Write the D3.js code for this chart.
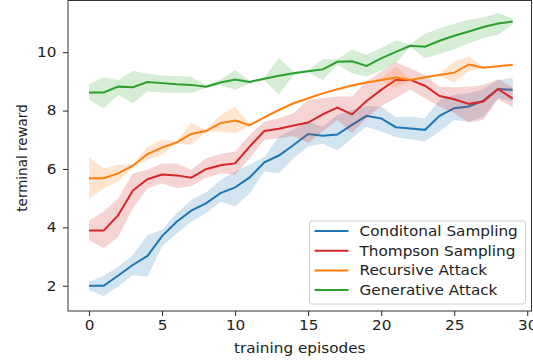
<!DOCTYPE html>
<html>
<head>
<meta charset="utf-8">
<script src="https://cdn.jsdelivr.net/npm/d3@7"></script>
<style>
  body { margin: 0; background: #fff; }
  svg { display: block; }
  text { font-family: "DejaVu Sans", sans-serif; fill: #222; }
</style>
</head>
<body>
<script>
// training episode index
const episodes = [0, 1, 2, 3, 4, 5, 6, 7, 8, 9, 10, 11, 12, 13, 14, 15, 16, 17, 18, 19, 20, 21, 22, 23, 24, 25, 26, 27, 28, 29]

// Conditonal Sampling
const condMean = [2.0, 2.0, 2.35, 2.71, 3.02, 3.7, 4.19, 4.57, 4.82, 5.17, 5.37, 5.71, 6.23, 6.46, 6.82, 7.2, 7.14, 7.18, 7.51, 7.82, 7.73, 7.43, 7.39, 7.34, 7.82, 8.08, 8.14, 8.34, 8.74, 8.71]
const condLow = [1.85, 1.65, 1.97, 2.37, 2.31, 3.34, 3.79, 4.19, 4.48, 4.88, 4.71, 5.17, 5.91, 5.85, 6.37, 6.77, 6.86, 6.63, 7.05, 7.45, 7.28, 7.09, 7.02, 6.94, 7.28, 7.68, 7.62, 7.79, 8.42, 8.31]
const condHigh = [2.14, 2.33, 2.65, 3.05, 3.74, 3.93, 4.48, 4.94, 5.19, 5.62, 5.91, 6.14, 6.42, 7.11, 7.36, 7.62, 7.45, 7.85, 8.02, 8.16, 8.14, 7.77, 7.79, 7.74, 8.37, 8.54, 8.59, 8.73, 9.05, 9.11]

// Thompson Sampling
const thompMean = [3.89, 3.89, 4.42, 5.26, 5.65, 5.81, 5.78, 5.7, 5.99, 6.13, 6.19, 6.77, 7.3, 7.38, 7.49, 7.59, 7.87, 8.1, 7.87, 8.33, 8.71, 9.05, 9.05, 8.85, 8.5, 8.39, 8.23, 8.31, 8.74, 8.41]
const thompLow = [3.57, 3.28, 3.68, 4.65, 5.34, 5.5, 5.34, 5.42, 5.7, 5.85, 5.8, 6.37, 6.99, 7.05, 7.13, 6.88, 7.28, 7.68, 7.22, 7.74, 8.16, 8.42, 8.71, 8.42, 8.14, 7.91, 7.59, 7.68, 8.39, 8.11]
const thompHigh = [4.23, 4.54, 5.0, 5.85, 5.97, 6.19, 6.19, 5.97, 6.37, 6.51, 6.6, 7.17, 7.62, 7.74, 7.91, 8.37, 8.42, 8.48, 8.48, 9.0, 9.34, 9.65, 9.45, 9.22, 8.82, 8.8, 8.82, 8.88, 9.07, 8.8]

// Recursive Attack
const recMean = [5.68, 5.68, 5.85, 6.11, 6.51, 6.73, 6.91, 7.2, 7.3, 7.57, 7.66, 7.5, 7.77, 8.02, 8.25, 8.42, 8.59, 8.73, 8.86, 8.96, 9.05, 9.13, 9.05, 9.14, 9.22, 9.3, 9.58, 9.47, 9.52, 9.57]
const recLow = [4.96, 5.34, 5.57, 6.06, 6.31, 6.48, 6.87, 6.82, 7.26, 7.28, 7.22, 7.46, 7.74, 7.99, 8.22, 8.39, 8.56, 8.7, 8.83, 8.93, 9.02, 8.78, 9.02, 9.11, 9.19, 8.95, 9.35, 9.44, 9.49, 9.54]
const recHigh = [6.4, 6.02, 6.14, 6.16, 6.77, 7.0, 6.95, 7.59, 7.34, 7.85, 8.14, 7.54, 7.8, 8.05, 8.28, 8.45, 8.62, 8.76, 8.89, 8.99, 9.08, 9.5, 9.08, 9.17, 9.25, 9.68, 9.85, 9.5, 9.55, 9.6]

// Generative Attack
const genMean = [8.62, 8.62, 8.82, 8.8, 8.98, 8.94, 8.9, 8.88, 8.82, 8.96, 9.06, 8.98, 9.09, 9.19, 9.28, 9.35, 9.41, 9.67, 9.69, 9.53, 9.79, 10.01, 10.22, 10.19, 10.39, 10.56, 10.71, 10.86, 10.98, 11.05]
const genLow = [8.37, 8.08, 8.54, 8.25, 8.65, 8.62, 8.6, 8.6, 8.77, 8.86, 8.71, 8.93, 9.04, 8.54, 9.23, 9.3, 9.05, 9.57, 9.28, 9.17, 9.37, 9.62, 10.17, 9.79, 9.94, 10.1, 10.31, 10.48, 10.6, 10.95]
const genHigh = [8.89, 9.14, 9.05, 9.36, 9.26, 9.2, 9.18, 9.16, 8.87, 9.06, 9.39, 9.03, 9.14, 9.8, 9.33, 9.4, 9.76, 9.77, 10.08, 9.91, 10.14, 10.4, 10.27, 10.63, 10.82, 10.97, 11.11, 11.2, 11.34, 11.15]

const labels = ['Conditonal Sampling', 'Thompson Sampling', 'Recursive Attack', 'Generative Attack']
const colors = ['#1f77b4', '#d62728', '#ff7f0e', '#2ca02c']
const xTicks = [0, 5, 10, 15, 20, 25, 30]
const yTicks = [2, 4, 6, 8, 10]

const series = [
  { mean: condMean, low: condLow, high: condHigh },
  { mean: thompMean, low: thompLow, high: thompHigh },
  { mean: recMean, low: recLow, high: recHigh },
  { mean: genMean, low: genLow, high: genHigh }
]

const width = 533
const height = 360
const plot = { left: 68, right: 531.5, top: 0.5, bottom: 311 }
const stretch = 1.13 // picture is a bit wider than tall

let svg = d3.select('body').append('svg')
  .attr('width', width)
  .attr('height', height)

const x = d3.scaleLinear().domain([-1.44, 30.29]).range([plot.left, plot.right])
const y = d3.scaleLinear().domain([1.135, 11.77]).range([plot.bottom, plot.top])

// bands + lines
series.forEach((s, k) => {
  let area = d3.area()
    .x((d, i) => x(episodes[i]))
    .y0((d, i) => y(s.low[i]))
    .y1((d, i) => y(s.high[i]))
  let line = d3.line()
    .x((d, i) => x(episodes[i]))
    .y((d) => y(d))

  svg.append('path')
    .attr('d', area(s.mean))
    .attr('fill', colors[k])
    .attr('fill-opacity', 0.2)

  svg.append('path')
    .attr('d', line(s.mean))
    .attr('fill', 'none')
    .attr('stroke', colors[k])
    .attr('stroke-width', 2)
})

// axes
let xAxis = svg.append('g')
  .attr('transform', `translate(0,${plot.bottom})`)
  .call(d3.axisBottom(x).tickValues(xTicks).tickSize(5).tickPadding(4))
xAxis.selectAll('text')
  .attr('font-size', 13.5)
  .attr('transform', `scale(${stretch},1)`)

let yAxis = svg.append('g')
  .attr('transform', `translate(${plot.left},0)`)
  .call(d3.axisLeft(y).tickValues(yTicks).tickSize(5).tickPadding(4))
yAxis.selectAll('text')
  .attr('font-size', 13.5)
  .attr('x', -11.5 / stretch)
  .attr('transform', `scale(${stretch},1)`)

svg.selectAll('.domain').remove()
svg.selectAll('.tick line').attr('stroke', '#222')
svg.selectAll('.tick text').attr('fill', '#222').attr('font-family', '"DejaVu Sans", sans-serif')

svg.append('rect')
  .attr('x', plot.left)
  .attr('y', plot.top)
  .attr('width', plot.right - plot.left)
  .attr('height', plot.bottom - plot.top)
  .attr('fill', 'none')
  .attr('stroke', '#333')
  .attr('stroke-width', 1)

// axis labels
svg.append('text')
  .attr('transform', `translate(${(plot.left + plot.right) / 2},353) scale(${stretch},1)`)
  .attr('text-anchor', 'middle')
  .attr('font-size', 13.5)
  .text('training episodes')

svg.append('text')
  .attr('transform', `translate(27,158) rotate(-90)`)
  .attr('text-anchor', 'middle')
  .attr('font-size', 13.5)
  .text('terminal reward')

// legend
let legend = svg.append('g')

legend.append('rect')
  .attr('x', 309.5)
  .attr('y', 221)
  .attr('width', 216)
  .attr('height', 83)
  .attr('rx', 3)
  .attr('fill', '#fff')
  .attr('fill-opacity', 0.8)
  .attr('stroke', '#d0d0d0')

labels.forEach((name, i) => {
  let cy = 231 + i * 19.7
  legend.append('line')
    .attr('x1', 314.5)
    .attr('x2', 348.5)
    .attr('y1', cy)
    .attr('y2', cy)
    .attr('stroke', colors[i])
    .attr('stroke-width', 2)
  legend.append('text')
    .attr('transform', `translate(359.5,${cy + 5}) scale(${stretch},1)`)
    .attr('font-size', 13.5)
    .text(name)
})
</script>
</body>
</html>
